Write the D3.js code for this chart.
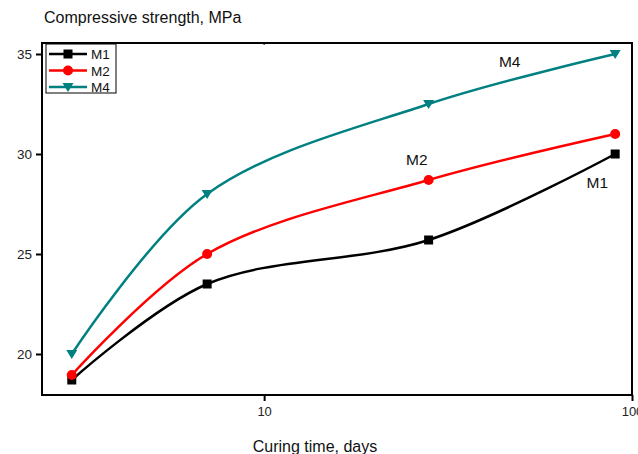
<!DOCTYPE html>
<html>
<head>
<meta charset="utf-8">
<script src="https://cdn.jsdelivr.net/npm/d3@7"></script>
<style>
body { margin: 0; background: #fff; }
text { font-family: "Liberation Sans", Arial, sans-serif; }
</style>
</head>
<body>
<div id="chart"></div>
<script>
// data
const days = [3, 7, 28, 90];
const m1 = [18.7, 23.5, 25.7, 30.0];
const m2 = [18.95, 25.0, 28.7, 31.0];
const m4 = [20.0, 28.0, 32.5, 35.0];
const seriesNames = ['M1', 'M2', 'M4'];
const yTicks = [20, 25, 30, 35];
const xTicks = [10, 100];

const W = 638, H = 454;
const pad = { left: 42, right: 6, top: 43, bottom: 59 };

let svg = d3.select('#chart').append('svg').attr('width', W).attr('height', H);

let x = d3.scaleLog().domain([2.49, 100]).range([pad.left, W - pad.right]);
let y = d3.scaleLinear().domain([17.95, 35.55]).range([H - pad.bottom, pad.top]);

const series = [
  { name: seriesNames[0], vals: m1, color: '#000000', marker: 'square' },
  { name: seriesNames[1], vals: m2, color: '#ff0000', marker: 'circle' },
  { name: seriesNames[2], vals: m4, color: '#008080', marker: 'tri' }
];

function marker(g, type, color) {
  if (type == 'square') {
    g.append('rect').attr('x', -4.5).attr('y', -4.5).attr('width', 9).attr('height', 9).attr('fill', color);
  } else if (type == 'circle') {
    g.append('circle').attr('r', 5).attr('fill', color);
  } else {
    g.append('path').attr('d', 'M-5.5,-4L5.5,-4L0,5Z').attr('fill', color);
  }
}

// curves
let line = d3.line().curve(d3.curveCatmullRom.alpha(0.5)).x(d => x(d[0])).y(d => y(d[1]));
series.forEach(s => {
  let pts = days.map((d, i) => [d, s.vals[i]]);
  svg.append('path').attr('d', line(pts))
    .attr('fill', 'none').attr('stroke', s.color).attr('stroke-width', 2.5);
  pts.forEach(p => {
    let g = svg.append('g').attr('transform', 'translate(' + [x(p[0]), y(p[1])] + ')');
    marker(g, s.marker, s.color);
  });
});

// frame
let x0 = pad.left, x1 = W - pad.right, y0 = pad.top, y1 = H - pad.bottom;
svg.append('rect').attr('x', x0).attr('y', y0).attr('width', x1 - x0).attr('height', y1 - y0)
  .attr('fill', 'none').attr('stroke', '#000').attr('stroke-width', 2);

// y axis
let ya = svg.append('g').attr('transform', 'translate(' + x0 + ',0)')
  .call(d3.axisLeft(y).tickValues(yTicks).tickSize(6).tickPadding(4).tickFormat(d3.format('d')));
ya.select('.domain').remove();
ya.selectAll('line').attr('stroke-width', 2);
ya.selectAll('text').attr('font-size', 13.5).attr('fill', '#222');

// x axis
let xa = svg.append('g').attr('transform', 'translate(0,' + y1 + ')')
  .call(d3.axisBottom(x).tickValues(xTicks).tickSize(6).tickPadding(6).tickFormat(d3.format('d')));
xa.select('.domain').remove();
xa.selectAll('line').attr('stroke-width', 2);
xa.selectAll('text').attr('font-size', 13).attr('fill', '#222');

// top minor mark at 10
svg.append('line').attr('x1', x(10)).attr('x2', x(10)).attr('y1', y0).attr('y2', y0 + 2)
  .attr('stroke', '#000').attr('stroke-width', 1);

// axis titles
svg.append('text').attr('x', 44).attr('y', 23).attr('font-size', 16).attr('fill', '#111')
  .text('Compressive strength, MPa');
svg.append('text').attr('x', 315).attr('y', 452).attr('text-anchor', 'middle')
  .attr('font-size', 16).attr('fill', '#111').text('Curing time, days');

// labels inside the plot
const inlineLabels = [
  { name: 'M4', xv: 46.5, yv: 34.35 },
  { name: 'M2', xv: 26.0, yv: 29.45 },
  { name: 'M1', xv: 80.5, yv: 28.3 }
];
inlineLabels.forEach(l => {
  svg.append('text').attr('x', x(l.xv)).attr('y', y(l.yv)).attr('text-anchor', 'middle')
    .attr('font-size', 15.5).attr('fill', '#111').text(l.name);
});

// legend
let lg = svg.append('g').attr('transform', 'translate(46,44)');
lg.append('rect').attr('width', 70).attr('height', 49).attr('fill', '#fff')
  .attr('stroke', '#000').attr('stroke-width', 1);
series.forEach((s, i) => {
  let yy = 10 + i * 16.5;
  lg.append('line').attr('x1', 3).attr('x2', 41).attr('y1', yy).attr('y2', yy)
    .attr('stroke', s.color).attr('stroke-width', 2.5);
  let g = lg.append('g').attr('transform', 'translate(22,' + yy + ')');
  marker(g, s.marker, s.color);
  lg.append('text').attr('x', 45).attr('y', yy + 5).attr('font-size', 13.5).attr('fill', '#111').text(s.name);
});
</script>
</body>
</html>
